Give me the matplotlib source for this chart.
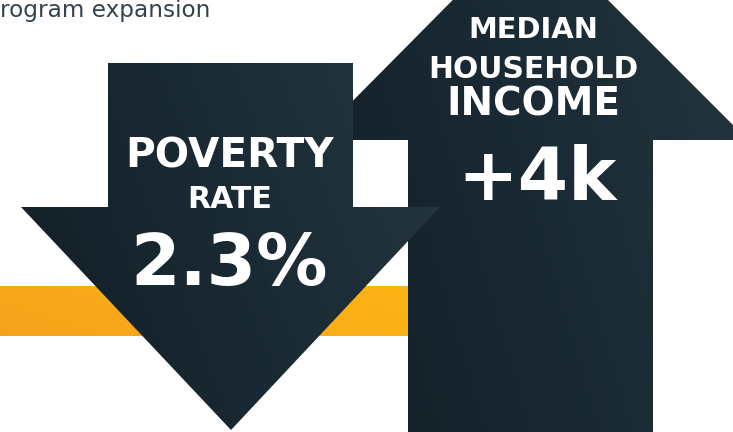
import numpy as np
import matplotlib
matplotlib.use("Agg")
import matplotlib.pyplot as plt
from matplotlib.patches import Polygon, Rectangle
from matplotlib.colors import LinearSegmentedColormap

# figures shown on the two arrows
down_labels = ["POVERTY", "RATE", "2.3%"]
up_labels = ["MEDIAN", "HOUSEHOLD", "INCOME", "+4k"]
caption = "rogram expansion"

W, H = 733, 432
fig = plt.figure(figsize=(W / 100, H / 100), dpi=100)
ax = fig.add_axes([0, 0, 1, 1])
ax.set_xlim(0, W)
ax.set_ylim(H, 0)
ax.axis("off")
fig.patch.set_facecolor("white")

navy = LinearSegmentedColormap.from_list("navy", ["#121d25", "#1a2a34", "#24363f"])
orange = LinearSegmentedColormap.from_list("orng", ["#f5a31d", "#fdb515"])

def gradient_fill(poly, cmap, extent, z):
    ax.add_patch(poly)
    poly.set_visible(False)
    xx = np.linspace(0, 1, 200)
    yy = np.linspace(0, 1, 100)
    g = xx[None, :] * 0.75 + (1 - yy[:, None]) * 0.25
    im = ax.imshow(g, cmap=cmap, extent=extent, origin="upper",
                   aspect="auto", zorder=z, interpolation="bicubic")
    im.set_clip_path(poly)

# orange band
band = Rectangle((0, 286), 420, 50, transform=ax.transData)
gradient_fill(band, orange, (0, 420, 336, 286), 1)

# up arrow (income)
up = Polygon([(408, 440), (408, 140), (314, 140), (530, -78), (748, 140),
              (653, 140), (653, 440)], closed=True, transform=ax.transData)
gradient_fill(up, navy, (300, 760, 440, -80), 2)

# down arrow (poverty)
down = Polygon([(108, 63), (353, 63), (353, 207), (440, 207), (231, 430),
                (21, 207), (108, 207)], closed=True, transform=ax.transData)
gradient_fill(down, navy, (20, 441, 431, 62), 3)

renderer = fig.canvas.get_renderer()

def fit_text(x, y, s, width, weight="bold", ha="center", color="white", z=5):
    t = ax.text(x, y, s, ha=ha, va="center", color=color, fontsize=20,
                fontweight=weight, family="DejaVu Sans", zorder=z)
    w = t.get_window_extent(renderer).width
    t.set_fontsize(20 * width / w)
    return t

# left arrow text
fit_text(230, 157, down_labels[0], 208)
fit_text(230, 199, down_labels[1], 85)
fit_text(229, 265, down_labels[2], 198)

# right arrow text
fit_text(533, 30, up_labels[0], 130)
fit_text(533, 70, up_labels[1], 209)
fit_text(533, 104, up_labels[2], 173)
fit_text(537, 180, up_labels[3], 160)

fit_text(0, 10, caption, 210, weight="normal", ha="left", color="#34444f")

fig.savefig("out.png", dpi=100, facecolor="white")
